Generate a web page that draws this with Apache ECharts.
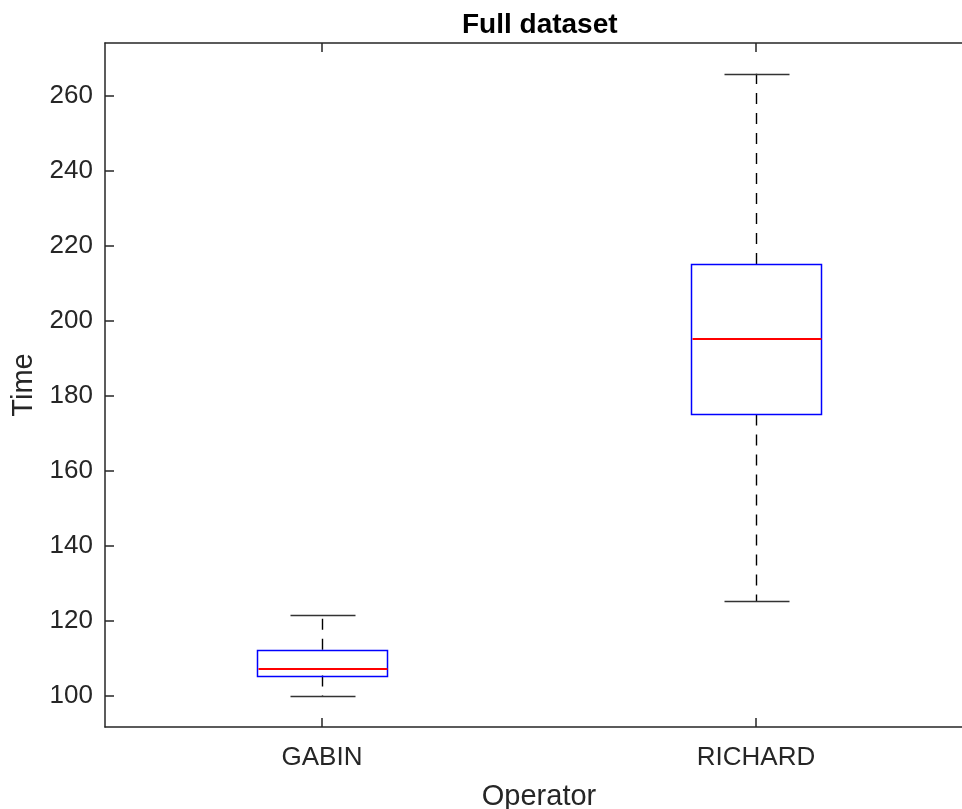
<!DOCTYPE html>
<html><head><meta charset="utf-8">
<script src="https://cdn.jsdelivr.net/npm/echarts@6/dist/echarts.min.js"></script>
<style>html,body{margin:0;padding:0;background:#fff}#c{width:962px;height:809px}</style>
</head><body><div id="c"></div>
<script>
const categories = ['GABIN', 'RICHARD'];
const minValues = [100.0, 125.4];
const q1Values = [105.5, 175.1];
const medianValues = [107.3, 195.2];
const q3Values = [112.4, 215.2];
const maxValues = [121.7, 265.9];
const yTickValues = [100, 120, 140, 160, 180, 200, 220, 240, 260];
const yMin = 91.8, yMax = 274.1;

const boxData = categories.map((c, i) => [i, minValues[i], q1Values[i], medianValues[i], q3Values[i], maxValues[i]]);

const FONT = '"Liberation Sans", Arial, Helvetica, sans-serif';
const TXT = '#262626';
const chart = echarts.init(document.getElementById('c'), null, {renderer: 'canvas'});

function px(v) { return Math.round(v) + 0.5; }

chart.setOption({
  animation: false,
  backgroundColor: '#fff',
  title: {
    text: 'Full dataset', left: 457, top: 6,
    textStyle: {fontFamily: FONT, fontSize: 28, fontWeight: 'bold', color: '#000'}
  },
  grid: {left: 105, top: 43, width: 868, height: 684, containLabel: false, outerBoundsMode: 'none'},
  xAxis: [{
    type: 'category', data: categories, position: 'bottom', boundaryGap: true,
    name: 'Operator', nameLocation: 'middle', nameGap: 55,
    nameTextStyle: {fontFamily: FONT, fontSize: 29, color: TXT},
    axisLine: {show: true, lineStyle: {color: TXT, width: 1.5}},
    axisTick: {show: true, inside: true, length: 9, alignWithLabel: true, lineStyle: {color: TXT, width: 1.5}},
    axisLabel: {fontFamily: FONT, fontSize: 26, color: TXT, margin: 18},
    splitLine: {show: false}
  }, {
    type: 'category', data: categories, position: 'top', boundaryGap: true,
    axisLine: {show: true, lineStyle: {color: TXT, width: 1.5}},
    axisTick: {show: true, inside: true, length: 9, alignWithLabel: true, lineStyle: {color: TXT, width: 1.5}},
    axisLabel: {show: false},
    splitLine: {show: false}
  }],
  yAxis: {
    type: 'value', min: yMin, max: yMax,
    name: 'Time', nameLocation: 'middle', nameGap: 66, nameRotate: 90,
    nameTextStyle: {fontFamily: FONT, fontSize: 29, color: TXT},
    axisLine: {show: true, lineStyle: {color: TXT, width: 1.5}},
    axisTick: {show: true, inside: true, length: 9, customValues: yTickValues, lineStyle: {color: TXT, width: 1.5}},
    axisLabel: {fontFamily: FONT, fontSize: 26, color: TXT, margin: 12, customValues: yTickValues},
    splitLine: {show: false}
  },
  series: [{
    type: 'custom',
    xAxisIndex: 0, yAxisIndex: 0,
    data: boxData,
    encode: {x: 0, y: [1, 2, 3, 4, 5]},
    renderItem: function (params, api) {
      const idx = api.value(0);
      const band = api.size([1, 0])[0];
      const pMin = api.coord([idx, api.value(1)]);
      const pQ1 = api.coord([idx, api.value(2)]);
      const pMed = api.coord([idx, api.value(3)]);
      const pQ3 = api.coord([idx, api.value(4)]);
      const pMax = api.coord([idx, api.value(5)]);
      const cx = px(pMin[0]);
      const bw = band * 0.15, cw = band * 0.075;
      const dash = {stroke: '#000000', lineWidth: 1.4, lineDash: [11, 9], fill: null};
      const solid = (c, w) => ({stroke: c, lineWidth: w, fill: null});
      return {
        type: 'group',
        children: [
          {type: 'line', shape: {x1: cx, y1: pQ3[1], x2: cx, y2: pMax[1]}, style: dash},
          {type: 'line', shape: {x1: cx, y1: pQ1[1], x2: cx, y2: pMin[1]}, style: dash},
          {type: 'line', shape: {x1: px(cx - cw), y1: px(pMax[1]), x2: px(cx + cw), y2: px(pMax[1])}, style: solid('#333333', 1.5)},
          {type: 'line', shape: {x1: px(cx - cw), y1: px(pMin[1]), x2: px(cx + cw), y2: px(pMin[1])}, style: solid('#333333', 1.5)},
          {type: 'rect', shape: {x: px(cx - bw), y: px(pQ3[1]), width: Math.round(2 * bw), height: Math.round(pQ1[1] - pQ3[1])}, style: solid('#0000ff', 1.5)},
          {type: 'line', shape: {x1: px(cx - bw) + 1, y1: Math.round(pMed[1]), x2: px(cx + bw) - 1, y2: Math.round(pMed[1])}, style: solid('#ff0000', 2)}
        ]
      };
    }
  }]
});
</script>
</body></html>
